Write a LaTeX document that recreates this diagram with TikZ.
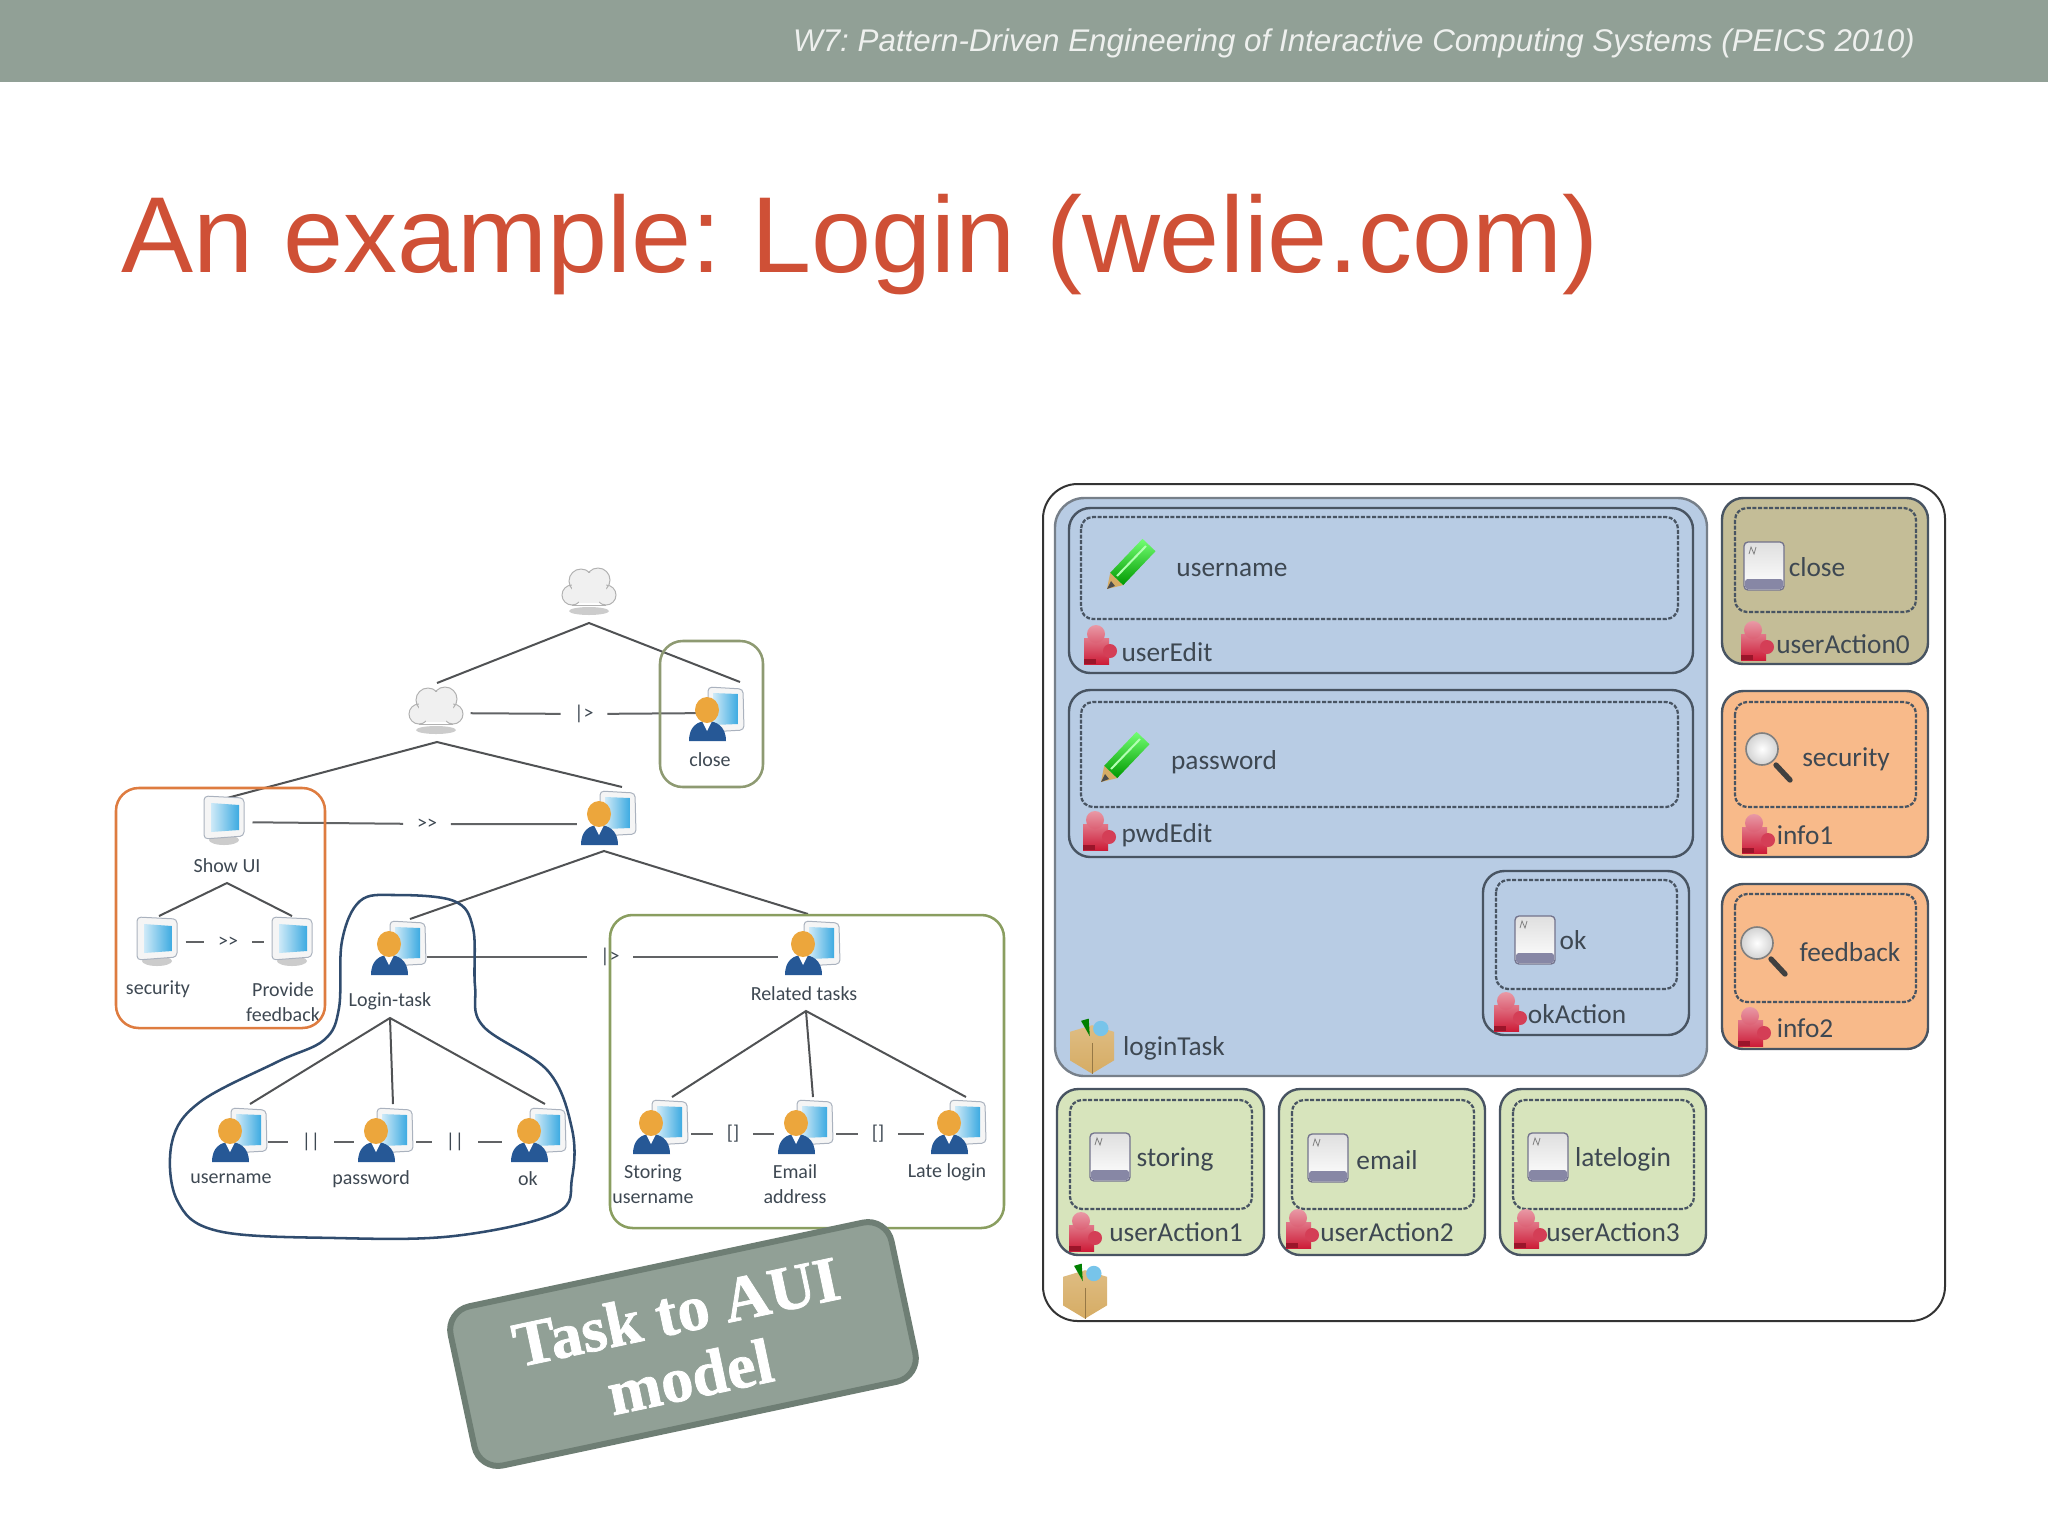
\documentclass[tikz,border=0pt]{standalone}
\usepackage{fontspec}
\frenchspacing
\newfontfamily\titlefont{Liberation Sans}
\newfontfamily\labelfont{Carlito}
\newfontfamily\stampfont[UprightFont=* Bold,FakeBold=1.2]{Liberation Serif}
\definecolor{barcol}{RGB}{145,160,150}
\definecolor{stampedge}{RGB}{110,126,116}
\definecolor{titlecol}{RGB}{207,80,54}
\definecolor{headcol}{RGB}{238,240,238}
\definecolor{txtcol}{RGB}{62,72,82}
\definecolor{treecol}{RGB}{80,82,84}
\definecolor{panelline}{RGB}{72,84,98}
\definecolor{bluefill}{RGB}{184,204,228}
\definecolor{khakifill}{RGB}{196,189,151}
\definecolor{orangefill}{RGB}{248,186,138}
\definecolor{greenfill}{RGB}{215,228,188}
\definecolor{orangeline}{RGB}{222,124,64}
\definecolor{khakiline}{RGB}{142,154,114}
\definecolor{oliveline}{RGB}{138,158,96}
\definecolor{blobline}{RGB}{48,76,110}
\definecolor{usrblue}{RGB}{38,88,150}
\definecolor{headorange}{RGB}{236,166,60}
\definecolor{scrblue}{RGB}{60,170,225}
\definecolor{monedge}{RGB}{170,178,190}
\definecolor{puzzlered}{RGB}{205,28,56}
\definecolor{boxtan}{RGB}{214,172,100}
\definecolor{keyband}{RGB}{135,135,165}
\tikzset{every picture/.style={line width=0.75pt}}
\tikzset{
	treeline/.style={draw=treecol,line width=1.5pt},
	opline/.style={draw=treecol!90,line width=1.5pt},
	iconnode/.style={inner sep=0pt,minimum width=42pt,minimum height=10pt},
	opnode/.style={font=\labelfont\fontsize{15}{18}\selectfont,text=txtcol,inner xsep=10pt,inner ysep=0pt},
	tasklabel/.style={font=\labelfont\fontsize{15}{18.75}\selectfont,text=txtcol,align=center,inner sep=0pt},
	aiolabel/.style={font=\labelfont\fontsize{20.5}{24}\selectfont,text=txtcol,inner sep=0pt},
	panelbox/.style={draw=panelline,line width=1.8pt,rounded corners=16pt},
	dashbox/.style={draw=panelline,line width=1.7pt,dash pattern=on 3pt off 1.2pt,rounded corners=9pt},
	grouphull/.style={line width=1.9pt,rounded corners=17pt},
	cloud/.pic={
		\fill [gray!40] (0,24) ellipse [x radius=20,y radius=4];
		\draw [gray!60,fill=gray!12] (-17,8) circle (10) (17,8) circle (10) (-8,-6) circle (12) (9,-7) circle (12);
		\fill [gray!12] (-17,-6) rectangle (17,12) (-10,-14) rectangle (10,16);
		\draw [gray!60] (-17,18) -- (17,18);
	},
	monitor/.pic={
		\fill [gray!40] (0,20) ellipse [x radius=15,y radius=5];
		\draw [monedge,fill=gray!8,rounded corners=3pt] (-20,-24) -- (20,-22) -- (20,16) -- (-20,19) -- cycle;
		\shade [left color=scrblue!25,right color=scrblue] (-13,-17) -- (15,-15) -- (15,10) -- (-13,12) -- cycle;
	},
	usermon/.pic={
		\draw [monedge,fill=gray!8,rounded corners=3pt] (-8,-27) -- (27,-25) -- (28,16) -- (-8,18) -- cycle;
		\shade [left color=scrblue!25,right color=scrblue] (-3,-21) -- (22,-20) -- (22,10) -- (-3,11) -- cycle;
		\fill [usrblue] (-27,27) .. controls (-27,12) and (-18,7) .. (-9,7) .. controls (0,7) and (10,12) .. (10,27) -- cycle;
		\fill [white] (-14,7) -- (-4,7) -- (-9,17) -- cycle;
		\fill [headorange] (-9,-4) ellipse [x radius=12,y radius=13];
	},
	pencil/.pic={
		\fill [boxtan] (-18.8,5.7) -- (-5.8,18.1) -- (-22,22) -- cycle;
		\fill [black!70] (-22,22) -- (-18,14) -- (-14,19) -- cycle;
		\shade [top color=green!55!white,bottom color=green!60!black] (-18.8,5.7) -- (13.5,-28.2) -- (26.5,-15.8) -- (-5.8,18.1) -- cycle;
		\draw [white!70!green,line width=1.5pt] (-12,9) -- (17,-21);
	},
	keycap/.pic={
		\draw [gray!90!blue,line width=1pt,top color=gray!25,bottom color=white,rounded corners=3pt] (-20,-24) rectangle (20,24);
		\fill [keyband,rounded corners=2pt] (-19,13) rectangle (19,23);
		\draw [gray,line width=0.6pt] (-15,-12) -- (-13,-19) -- (-10,-12) -- (-8,-19);
	},
	lens/.pic={
		\draw [black!75,line width=4pt,line cap=round] (7,7) -- (21,22);
		\draw [gray,line width=1.2pt,inner color=white,outer color=gray!35] (-7,-9) circle (16);
	},
	puzzle/.pic={
		\shade [top color=puzzlered!60,bottom color=puzzlered] (-15,-8) rectangle (10,18);
		\shade [top color=puzzlered!45,bottom color=puzzlered!70] (-3,-12) ellipse [x radius=9,y radius=9];
		\fill [puzzlered!85] (11,5) circle (7);
		\fill [puzzlered!75!black] (-15,13) rectangle (-3,18);
	},
	cardbox/.pic={
		\shade [top color=boxtan!80,bottom color=boxtan] (-20,-12) -- (0,-18) -- (20,-12) -- (20,14) -- (0,26) -- (-20,14) -- cycle;
		\draw [boxtan!70!black,line width=0.5pt] (0,-2) -- (0,26);
		\fill [green!50!black] (-10,-22) -- (-2,-8) -- (-3,-24) -- cycle;
		\fill [scrblue!70] (8,-15) circle (7);
	}
}

\begin{document}
\begin{tikzpicture}[x=0.75pt,y=0.75pt,yscale=-1,xscale=1]
	\useasboundingbox (0,0) rectangle (2048,1536);

	%Shape: Rectangle
	\fill [barcol] (0,0) rectangle (2048,82);
	% Text Node
	\node (header) at (1354,43) [font=\titlefont\itshape\fontsize{23.5}{28}\selectfont,text=headcol,inner sep=0pt] {W7: Pattern-Driven Engineering of Interactive Computing Systems (PEICS 2010)};
	% Text Node
	\node (slidetitle) at (860,245) [font=\titlefont\fontsize{81}{90}\selectfont,text=titlecol,inner sep=0pt] {An example: Login (welie.com)};

	%Operator Nodes
	\node (opdisable) at (584,714) [opnode] {|>};
	\node (openable) at (427,824) [opnode] {>{}>};
	\node (opshow) at (228,942) [opnode] {>{}>};
	\node (oprelated) at (610,957) [opnode] {|>};
	\node (oppar1) at (311,1142) [opnode] {||};
	\node (oppar2) at (455,1142) [opnode] {||};
	\node (opchoice1) at (733,1134) [opnode] {[]};
	\node (opchoice2) at (878,1134) [opnode] {[]};

	%Icon Nodes
	\node (cloudleft) at (438,713) [iconnode,minimum width=48pt] {};
	\node (closeicon) at (716,713) [iconnode,minimum width=22pt] {};
	\node (showicon) at (224,822) [iconnode] {};
	\node (mainicon) at (608,824) [iconnode,minimum width=46pt] {};
	\node (secicon) at (157,942) [iconnode] {};
	\node (feedicon) at (292,942) [iconnode] {};
	\node (loginicon) at (398,957) [iconnode] {};
	\node (relicon) at (814,957) [iconnode,minimum width=54pt] {};
	\node (usericon) at (239,1142) [iconnode] {};
	\node (pwdicon) at (385,1142) [iconnode,minimum width=46pt] {};
	\node (okicon) at (538,1142) [iconnode,minimum width=54pt] {};
	\node (storeicon) at (660,1134) [iconnode,minimum width=46pt] {};
	\node (mailicon) at (805,1134) [iconnode,minimum width=46pt] {};
	\node (lateicon) at (958,1134) [iconnode,minimum width=50pt] {};

	%Tree Ends
	\coordinate (rootfork) at (589,623);
	\coordinate (cloudtop) at (437,683);
	\coordinate (closetop) at (740,682);
	\coordinate (cloudfork) at (437,742);
	\coordinate (showtop) at (227,798);
	\coordinate (maintop) at (622,787);
	\coordinate (mainfork) at (604,851);
	\coordinate (logintop) at (410,919);
	\coordinate (reltop) at (808,914);
	\coordinate (showfork) at (227,883);
	\coordinate (sectop) at (159,916);
	\coordinate (feedtop) at (292,916);
	\coordinate (loginfork) at (390,1018);
	\coordinate (usertop) at (250,1104);
	\coordinate (pwdtop) at (393,1104);
	\coordinate (oktop) at (545,1104);
	\coordinate (relfork) at (806,1011);
	\coordinate (storetop) at (672,1097);
	\coordinate (mailtop) at (813,1097);
	\coordinate (latetop) at (966,1097);

	%Tree Lines
	\draw [treeline] (cloudtop) -- (rootfork) -- (closetop);
	\draw [treeline] (showtop) -- (cloudfork) -- (maintop);
	\draw [treeline] (logintop) -- (mainfork) -- (reltop);
	\draw [treeline] (sectop) -- (showfork) -- (feedtop);
	\draw [treeline] (usertop) -- (loginfork) -- (oktop);
	\draw [treeline] (loginfork) -- (pwdtop);
	\draw [treeline] (storetop) -- (relfork) -- (latetop);
	\draw [treeline] (relfork) -- (mailtop);

	%Operator Lines
	\draw [opline] (cloudleft) -- (opdisable) -- (closeicon);
	\draw [opline] (showicon) -- (openable) -- (mainicon);
	\draw [opline] (secicon) -- (opshow) -- (feedicon);
	\draw [opline] (loginicon) -- (oprelated) -- (relicon);
	\draw [opline] (usericon) -- (oppar1) -- (pwdicon) -- (oppar2) -- (okicon);
	\draw [opline] (storeicon) -- (opchoice1) -- (mailicon) -- (opchoice2) -- (lateicon);

	%Icons
	\pic [transform shape] at (589,587) {cloud};
	\pic [transform shape] at (436,706) {cloud};
	\pic [transform shape] at (716,714) {usermon};
	\pic [transform shape] at (224,820) {monitor};
	\pic [transform shape] at (608,818) {usermon};
	\pic [transform shape] at (157,941) {monitor};
	\pic [transform shape] at (292,941) {monitor};
	\pic [transform shape] at (398,948) {usermon};
	\pic [transform shape] at (812,948) {usermon};
	\pic [transform shape] at (239,1135) {usermon};
	\pic [transform shape] at (385,1135) {usermon};
	\pic [transform shape] at (538,1135) {usermon};
	\pic [transform shape] at (660,1127) {usermon};
	\pic [transform shape] at (805,1127) {usermon};
	\pic [transform shape] at (958,1127) {usermon};

	% Text Node
	\node (closelabel) at (710,760) [tasklabel] {close};
	\node (showlabel) at (227,866) [tasklabel] {Show UI};
	\node (seclabel) at (158,989) [tasklabel] {security};
	\node (feedlabel) at (283,1002) [tasklabel] {Provide\\feedback};
	\node (loginlabel) at (390,1001) [tasklabel] {Login-task};
	\node (rellabel) at (804,994) [tasklabel] {Related tasks};
	\node (userlabel) at (231,1179) [tasklabel] {username};
	\node (pwdlabel) at (371,1179) [tasklabel] {password};
	\node (oklabel) at (528,1179) [tasklabel] {ok};
	\node (storelabel) at (653,1184) [tasklabel] {Storing\\username};
	\node (maillabel) at (795,1184) [tasklabel] {Email\\address};
	\node (latelabel) at (947,1172) [tasklabel] {Late login};

	%Rounded Rect
	\draw [grouphull,draw=orangeline] (116,788) rectangle (325,1028);
	\draw [grouphull,draw=khakiline] (660,641) rectangle (763,787);
	\draw [grouphull,draw=oliveline] (610,915) rectangle (1004,1228);
	\draw [draw=blobline,line width=1.9pt] plot [smooth cycle,tension=0.6] coordinates {(395,895) (454,901) (473,928) (475,986) (483,1026) (548,1071) (572,1129) (572,1178) (556,1213) (454,1236) (336,1238) (218,1231) (177,1200) (172,1142) (200,1102) (277,1062) (324,1040) (339,1008) (342,941) (360,901)};

	%Outer Panel
	\draw [draw=black!80,line width=1.5pt,fill=white,rounded corners=26pt] (1043,484) rectangle (1945,1321);
	%Login Task
	\draw [panelbox,fill=bluefill,rounded corners=22pt,draw=panelline!75] (1055,498) rectangle (1707,1076);
	\draw [panelbox] (1069,508) rectangle (1693,673);
	\draw [dashbox] (1081,517) rectangle (1678,619);
	\draw [panelbox] (1069,690) rectangle (1693,857);
	\draw [dashbox] (1081,702) rectangle (1678,807);
	\draw [panelbox] (1483,871) rectangle (1689,1035);
	\draw [dashbox] (1496,880) rectangle (1677,989);
	%Right Column
	\draw [panelbox,fill=khakifill] (1722,498) rectangle (1928,664);
	\draw [dashbox] (1735,508) rectangle (1916,612);
	\draw [panelbox,fill=orangefill] (1722,691) rectangle (1928,857);
	\draw [dashbox] (1735,702) rectangle (1916,807);
	\draw [panelbox,fill=orangefill] (1722,884) rectangle (1928,1049);
	\draw [dashbox] (1735,894) rectangle (1916,1002);
	%Bottom Row
	\draw [panelbox,fill=greenfill] (1057,1089) rectangle (1264,1255);
	\draw [dashbox] (1070,1100) rectangle (1252,1209);
	\draw [panelbox,fill=greenfill] (1279,1089) rectangle (1485,1255);
	\draw [dashbox] (1292,1100) rectangle (1474,1209);
	\draw [panelbox,fill=greenfill] (1500,1089) rectangle (1706,1255);
	\draw [dashbox] (1513,1100) rectangle (1694,1209);

	%Panel Icons
	\pic [transform shape] at (1129,567) {pencil};
	\pic [transform shape] at (1123,760) {pencil};
	\pic [transform shape] at (1099,646) {puzzle};
	\pic [transform shape] at (1098,832) {puzzle};
	\pic [transform shape] at (1535,940) {keycap};
	\pic [transform shape] at (1509,1013) {puzzle};
	\pic [transform shape,scale=1.1] at (1092,1045) {cardbox};
	\pic [transform shape] at (1764,566) {keycap};
	\pic [transform shape] at (1756,642) {puzzle};
	\pic [transform shape] at (1769,758) {lens};
	\pic [transform shape] at (1757,835) {puzzle};
	\pic [transform shape] at (1764,952) {lens};
	\pic [transform shape] at (1753,1028) {puzzle};
	\pic [transform shape] at (1110,1157) {keycap};
	\pic [transform shape] at (1084,1233) {puzzle};
	\pic [transform shape] at (1328,1158) {keycap};
	\pic [transform shape] at (1301,1230) {puzzle};
	\pic [transform shape] at (1548,1157) {keycap};
	\pic [transform shape] at (1529,1230) {puzzle};
	\pic [transform shape,scale=1.1] at (1085,1290) {cardbox};

	% Text Node
	\node (unamelabel) at (1232,570) [aiolabel] {username};
	\node (editlabel) at (1167,652) [aiolabel] {userEdit};
	\node (passlabel) at (1224,762) [aiolabel] {password};
	\node (pwdeditlabel) at (1167,835) [aiolabel] {pwdEdit};
	\node (okkeylabel) at (1573,940) [aiolabel] {ok};
	\node (okactlabel) at (1577,1014) [aiolabel] {okAction};
	\node (logintasklabel) at (1174,1048) [aiolabel] {loginTask};
	\node (closekeylabel) at (1817,567) [aiolabel] {close};
	\node (act0label) at (1843,644) [aiolabel] {userAction0};
	\node (securitylabel) at (1846,759) [aiolabel] {security};
	\node (info1label) at (1805,835) [aiolabel] {info1};
	\node (feedbacklabel) at (1850,952) [aiolabel] {feedback};
	\node (info2label) at (1805,1028) [aiolabel] {info2};
	\node (storinglabel) at (1175,1159) [aiolabel] {storing};
	\node (emaillabel) at (1387,1160) [aiolabel] {email};
	\node (lateloginlabel) at (1623,1159) [aiolabel] {latelogin};
	\node (act1label) at (1176,1232) [aiolabel] {userAction1};
	\node (act2label) at (1387,1232) [aiolabel] {userAction2};
	\node (act3label) at (1613,1232) [aiolabel] {userAction3};

	%Stamp
	\node (stamp) at (683,1344) [rotate=12,draw=stampedge,line width=4.5pt,fill=barcol,rounded corners=18pt,minimum width=338pt,minimum height=122pt,inner sep=0pt,align=center,text=white,font=\stampfont\fontsize{48}{50}\selectfont] {Task to AUI\\model};

\end{tikzpicture}
\end{document}
